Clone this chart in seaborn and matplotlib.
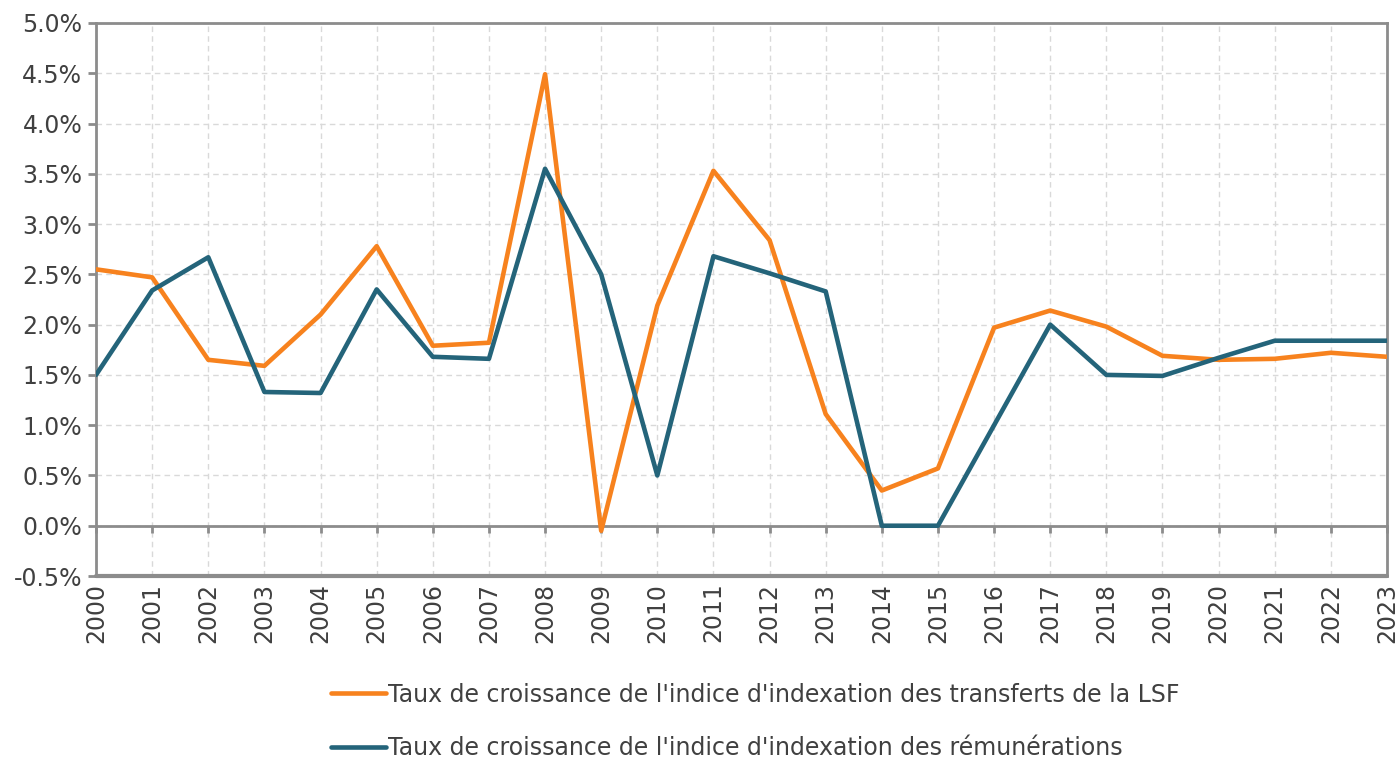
import pandas as pd
import numpy as np
import matplotlib
matplotlib.use("Agg")
import matplotlib.pyplot as plt
from matplotlib.lines import Line2D
import seaborn as sns

years = list(range(2000, 2024))
lsf = [2.55, 2.47, 1.65, 1.59, 2.10, 2.78, 1.79, 1.82, 4.49, -0.05, 2.19, 3.53,
       2.84, 1.11, 0.35, 0.57, 1.97, 2.14, 1.98, 1.69, 1.65, 1.66, 1.72, 1.68]
remu = [1.50, 2.34, 2.67, 1.33, 1.32, 2.35, 1.68, 1.66, 3.55, 2.50, 0.50, 2.68,
        2.51, 2.33, 0.00, 0.00, 1.00, 2.00, 1.50, 1.49, 1.67, 1.84, 1.84, 1.84]
labels = ["Taux de croissance de l'indice d'indexation des transferts de la LSF",
          "Taux de croissance de l'indice d'indexation des rémunérations"]
colors = ["#F7821E", "#24647A"]
y_ticks = [-0.5, 0.0, 0.5, 1.0, 1.5, 2.0, 2.5, 3.0, 3.5, 4.0, 4.5, 5.0]

data = pd.DataFrame({
    "annee": years * 2,
    "taux": lsf + remu,
    "serie": [labels[0]] * len(years) + [labels[1]] * len(years),
})

sns.set_style("white")
plt.rcParams["font.family"] = ["DejaVu Sans"]
plt.rcParams["axes.unicode_minus"] = False
text_col = "#404040"
axis_col = "#8c8c8c"

fig, ax = plt.subplots(figsize=(14, 7.61), dpi=100)
fig.subplots_adjust(left=0.0686, right=0.9907, top=0.9698, bottom=0.2431)

sns.lineplot(data=data, x="annee", y="taux", hue="serie", palette=colors,
             linewidth=3.3, legend=False, ax=ax, zorder=3)

ax.set_xlim(years[0], years[-1])
ax.set_ylim(y_ticks[0], y_ticks[-1])
ax.set_xticks(years)
ax.set_xticklabels([str(y) for y in years])
ax.set_yticks(y_ticks)
ax.set_yticklabels([f"{v:.1f}%" for v in y_ticks])
ax.set_xlabel("")
ax.set_ylabel("")

ax.grid(True, color="#d9d9d9", linestyle=(0, (4, 3)), linewidth=1)
ax.set_axisbelow(True)

for s in ["left", "right", "top"]:
    ax.spines[s].set_color(axis_col)
    ax.spines[s].set_linewidth(2)
ax.spines["bottom"].set_position(("data", 0))
ax.spines["bottom"].set_color(axis_col)
ax.spines["bottom"].set_linewidth(2)
ax.axhline(ax.get_ylim()[0], color=axis_col, linewidth=3, clip_on=False, zorder=4)

ax.tick_params(axis="y", length=6, width=2, color=axis_col, labelsize=17,
               labelcolor=text_col, pad=4, left=True)
ax.tick_params(axis="x", length=5, width=2, color=axis_col, labelsize=17,
               labelcolor=text_col, pad=36, bottom=True, direction="out",
               labelrotation=90)

handles = [Line2D([], [], color=c, linewidth=3.3) for c in colors]
fig.legend(handles, labels, loc="center left", bbox_to_anchor=(0.23, 0.052),
           frameon=False, fontsize=17, labelcolor=text_col, handlelength=2.3,
           handletextpad=0.1, labelspacing=1.25, borderaxespad=0)

fig.savefig("out.png", dpi=100)
